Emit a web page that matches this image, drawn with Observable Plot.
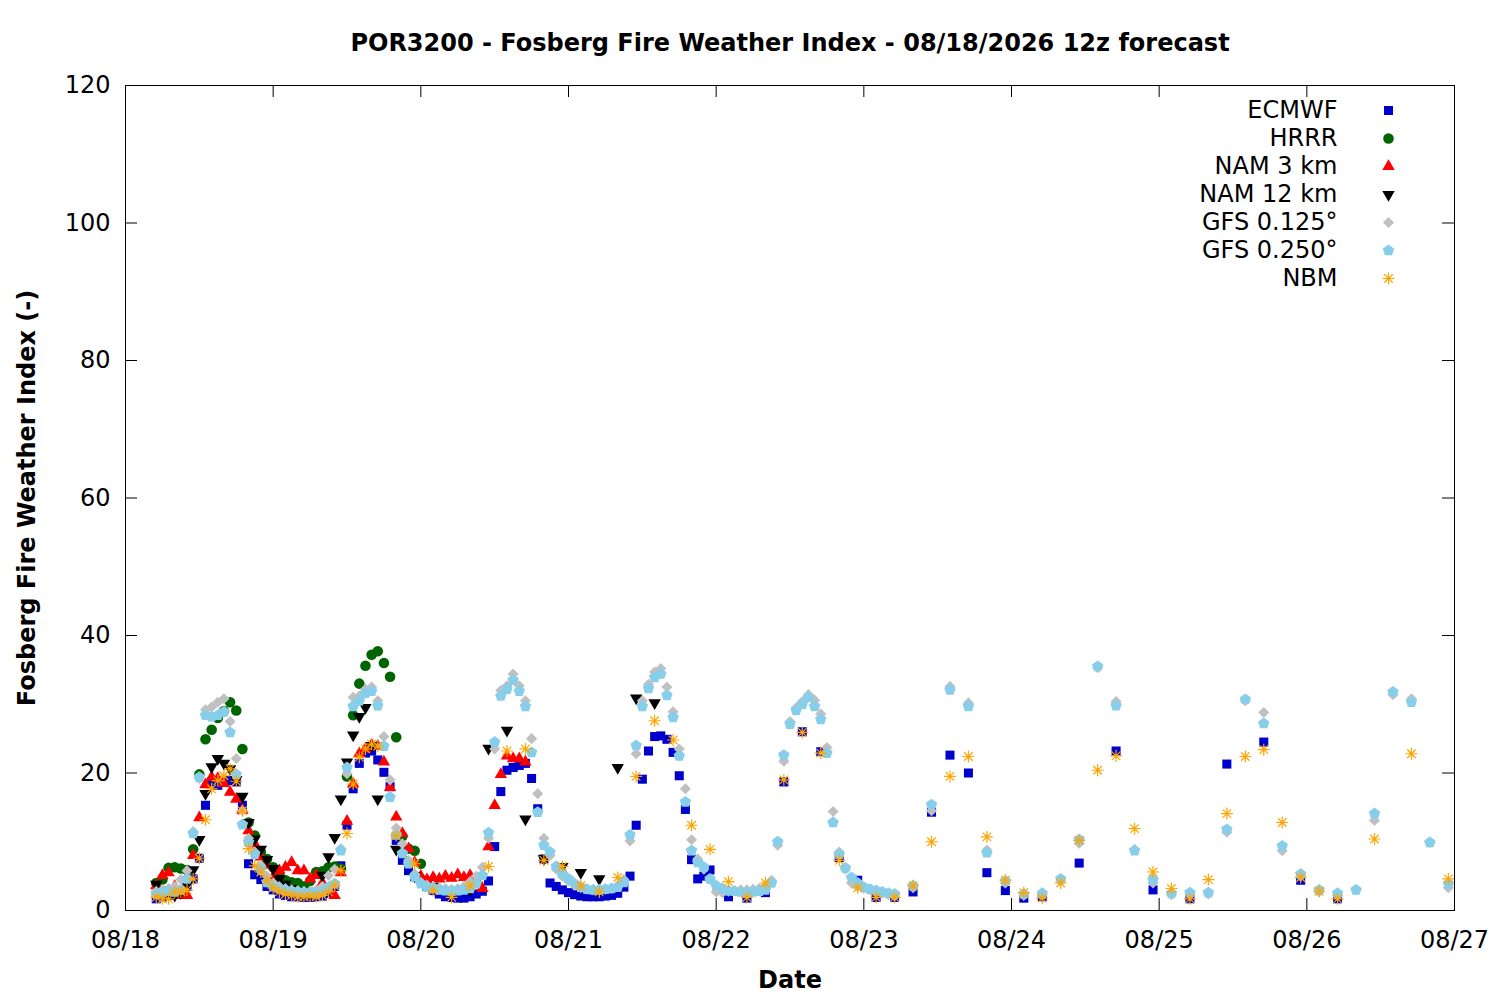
<!DOCTYPE html>
<html><head><meta charset="utf-8">
<script src="https://cdn.jsdelivr.net/npm/d3@7"></script>
<script src="https://cdn.jsdelivr.net/npm/@observablehq/plot@0.6"></script>
<style>body{margin:0;background:#fff} svg{display:block}</style>
</head><body><div id="chart"></div>
<script>
// ---------- data ----------
const titleText = "POR3200 - Fosberg Fire Weather Index - 08/18/2026 12z forecast";
const xLabel = "Date";
const yLabel = "Fosberg Fire Weather Index (-)";
const dayLabels = ["08/18","08/19","08/20","08/21","08/22","08/23","08/24","08/25","08/26","08/27"];
const dayTicks = [0,24,48,72,96,120,144,168,192,216]; // hours after 08/18 00 local
const yTicks = [0,20,40,60,80,100,120];
const modelNames = ["ECMWF","HRRR","NAM 3 km","NAM 12 km","GFS 0.125°","GFS 0.250°","NBM"];

// forecast valid times (hours after 08/18 00 local)
const ecmwfHours = [...d3.range(5,96,1), ...d3.range(98,150,3), ...d3.range(155,198,6)];
const hrrrHours  = d3.range(5,49,1);
const nam3Hours  = d3.range(5,66,1);
const nam12Hours = [...d3.range(5,42,1), ...d3.range(44,87,3)];
const gfsHours   = [...d3.range(5,126,1), ...d3.range(128,216,3)];
const nbmHours   = [...d3.range(5,42,1), ...d3.range(44,198,3), ...d3.range(203,216,6)];

const ecmwfFwi = [
  1.7,2.0,2.2,2.5,3.0,3.5,4.6,7.6,15.3,18.7,
  18.2,18.7,18.9,18.7,15.3,6.8,5.2,4.5,3.5,3.0,
  2.4,2.2,2.0,2.0,1.9,1.9,2.0,2.1,2.5,3.5,
  6.5,12.4,17.7,21.4,22.9,23.2,21.9,20.1,18.0,10.2,
  7.3,5.8,4.9,4.4,3.5,2.9,2.4,2.0,1.9,1.8,
  1.8,2.0,2.4,2.8,4.3,9.3,17.3,20.4,20.8,21.1,
  21.4,19.2,14.8,7.5,4.0,3.5,3.0,2.6,2.3,2.1,
  2.0,2.0,2.0,2.1,2.2,2.5,3.4,5.0,12.4,19.1,
  23.2,25.3,25.4,24.9,23.0,19.6,14.7,7.4,4.6,5.0,
  5.9,
  2.0,1.8,2.6,18.7,26.0,23.1,7.7,4.4,1.9,1.9,2.7,14.3,22.6,20.0,5.5,2.9,1.8,2.0,
  6.9,23.2,3.0,1.7,21.3,24.5,4.4,1.7
];
const hrrrFwi = [
  4.0,4.5,6.2,6.3,6.1,5.9,8.9,19.8,24.9,26.3,
  28.0,29.0,30.3,29.1,23.5,12.8,10.9,8.5,7.5,6.3,
  5.5,4.4,4.1,4.0,3.5,4.3,5.6,5.7,6.3,6.4,
  6.1,19.5,28.4,33.0,35.6,37.2,37.7,36.0,34.0,25.2,
  10.8,9.0,8.7,6.8
];
const nam3Fwi = [
  3.6,5.1,5.5,3.5,2.2,2.2,8.0,13.5,18.3,19.4,
  19.2,18.5,17.2,16.2,14.6,11.6,9.7,7.8,6.6,4.9,
  5.8,6.3,7.0,5.8,5.8,4.6,5.1,4.0,3.0,2.2,
  5.5,13.0,18.4,22.8,23.5,24.1,23.9,21.6,17.9,13.6,
  11.2,9.0,7.0,5.0,4.5,4.8,4.6,5.0,4.7,5.2,
  4.8,5.1,4.5,3.2,9.3,15.3,19.8,22.5,22.1,22.1,
  21.6
];
const nam12Fwi = [
  3.8,3.0,2.5,2.2,2.6,3.8,5.9,10.3,17.0,20.9,
  22.1,21.4,20.6,19.0,16.6,12.8,10.4,8.9,7.4,6.1,
  4.6,3.8,3.2,2.8,2.5,2.4,2.8,5.1,7.8,10.6,
  16.2,21.6,25.5,28.2,29.5,24.0,16.2,
  8.9,5.0,3.5,2.5,3.0,23.6,26.2,13.3,7.5,6.4,5.5,4.6,20.8,30.9,30.2
];
const gfs125Fwi = [
  2.8,3.0,3.2,3.5,4.5,5.8,11.5,19.2,29.2,29.6,
  30.3,30.8,27.5,22.1,14.5,10.5,8.5,6.5,5.0,4.0,
  3.5,3.2,3.0,2.9,2.8,2.8,3.0,3.5,5.1,6.0,
  9.0,19.9,31.0,31.2,32.2,32.5,30.5,25.3,19.0,12.0,
  9.7,7.3,5.3,4.1,3.7,3.5,3.3,3.2,3.1,3.2,
  3.5,4.2,5.0,6.3,10.5,23.5,32.0,32.7,34.4,32.7,
  30.5,25.0,17.0,10.5,8.0,6.0,5.0,4.3,3.7,3.3,
  3.1,3.0,3.0,3.1,3.2,3.6,4.5,10.1,22.8,30.5,
  32.9,34.7,35.2,32.5,28.9,23.5,17.7,10.3,7.5,6.0,
  4.5,2.7,2.6,2.8,2.9,3.0,3.0,3.1,3.2,3.6,
  4.4,9.5,21.7,27.5,29.5,30.4,31.4,30.6,28.6,23.7,
  14.4,8.5,6.0,4.0,3.5,3.2,3.0,2.8,2.5,2.3,
  2.1,
  3.3,14.5,32.6,30.2,8.8,4.0,2.2,2.3,4.3,9.8,35.3,30.4,8.9,4.0,2.3,
  2.3,2.4,11.4,30.5,28.8,8.7,5.0,2.7,2.2,3.0,13.1,31.4,30.8,9.9,3.3
];
const gfs250Fwi = [
  2.4,2.6,2.8,2.7,3.0,4.6,11.2,19.4,28.4,28.2,
  28.4,28.9,25.9,19.8,12.5,9.9,8.2,6.0,4.1,3.5,
  3.2,2.9,2.8,2.7,2.6,2.6,2.5,2.7,3.4,3.9,
  8.7,20.8,29.7,30.5,31.6,31.9,29.8,23.9,16.5,11.0,
  8.3,6.8,4.9,3.9,3.4,3.2,3.0,2.9,2.8,2.9,
  3.0,3.2,3.9,5.1,11.3,24.5,31.2,32.2,33.5,31.9,
  29.7,23.0,14.3,9.5,8.5,6.4,5.3,4.6,3.9,3.4,
  3.1,3.0,3.0,3.1,3.2,3.4,4.1,11.0,24.0,29.7,
  32.3,33.9,34.4,31.3,28.1,22.5,15.8,8.7,7.0,6.3,
  4.6,3.6,3.2,2.9,2.8,2.7,2.6,2.7,2.8,3.0,
  4.0,10.0,22.6,27.1,29.1,30.0,31.0,29.7,27.8,22.9,
  12.8,8.2,6.2,4.8,4.0,3.4,3.1,2.9,2.7,2.5,
  2.4,
  3.6,15.4,32.1,29.7,8.4,4.3,2.4,2.5,4.6,10.3,35.5,29.8,8.7,4.5,2.5,
  2.6,2.6,11.8,30.7,27.2,9.4,5.3,3.0,2.5,3.0,14.1,31.8,30.3,9.9,3.9
];
const nbmFwi = [
  1.9,1.7,1.7,2.7,2.7,3.0,4.6,7.6,13.2,17.7,
  18.9,19.6,20.6,18.8,14.5,9.0,6.5,5.6,4.4,3.3,
  2.7,2.4,2.2,2.0,2.0,2.1,2.0,2.2,2.7,3.6,
  5.8,11.2,18.4,22.3,23.5,24.2,23.9,
  10.9,6.8,2.9,1.9,3.6,6.4,23.2,23.5,7.3,6.4,
  3.6,2.7,4.8,19.5,27.6,24.8,12.4,8.9,4.2,1.9,
  4.0,19.0,25.9,22.9,7.3,3.3,1.9,1.9,3.6,10.0,
  19.5,22.4,10.7,4.4,2.6,1.8,4.0,10.2,20.4,22.5,
  11.9,5.6,3.2,1.7,4.5,14.1,22.4,23.4,12.8,4.8,
  2.8,1.7,
  10.4,22.8,4.6
];

// ---------- symbols & styles ----------
const pentagon = {draw(ctx, size) {
  const R = Math.sqrt(size / Math.PI);
  for (let i = 0; i < 5; ++i) {
    const a = -Math.PI / 2 + i * 2 * Math.PI / 5;
    const px = R * Math.cos(a), py = R * Math.sin(a);
    if (i === 0) ctx.moveTo(px, py); else ctx.lineTo(px, py);
  }
  ctx.closePath();
}};
const asterisk8 = {draw(ctx, size) {
  const R = Math.sqrt(size / Math.PI);
  for (let i = 0; i < 4; ++i) {
    const a = i * Math.PI / 4;
    ctx.moveTo(R * Math.cos(a), R * Math.sin(a));
    ctx.lineTo(-R * Math.cos(a), -R * Math.sin(a));
  }
}};

const styles = [
  {symbol: "square",   r: 5.1, fill: "#0000cc"},
  {symbol: "circle",   r: 5.3, fill: "#006400"},
  {symbol: "triangle", r: 4.6, fill: "#ff0000"},
  {symbol: "triangle", r: 4.6, fill: "#000000", rotate: 180},
  {symbol: "diamond2", r: 5.0, fill: "#c0c0c0"},
  {symbol: pentagon,   r: 6.0, fill: "#87ceeb"},
  {symbol: asterisk8,  r: 6.0, fill: "none", stroke: "#ffa500", strokeWidth: 1.2}
];

const seriesHours = [ecmwfHours, hrrrHours, nam3Hours, nam12Hours, gfsHours, gfsHours, nbmHours];
const seriesValues = [ecmwfFwi, hrrrFwi, nam3Fwi, nam12Fwi, gfs125Fwi, gfs250Fwi, nbmFwi];

const rows = seriesHours.map((hs, k) => hs.map((h, i) => ({h, v: seriesValues[k][i]})));

// ---------- chart ----------
const W = 1500, H = 1000, mL = 125, mR = 46, mT = 85, mB = 90;
const frameW = W - mL - mR, frameH = H - mT - mB, tick = 12;
const fs = 24;

const dotMarks = rows.map((data, k) => {
  const s = styles[k];
  return Plot.dot(data, {x: "h", y: "v", symbol: s.symbol, r: s.r, fill: s.fill,
    stroke: s.stroke ?? "none", strokeWidth: s.strokeWidth ?? 1, rotate: s.rotate ?? 0});
});

const legendMarks = modelNames.flatMap((name, k) => {
  const s = styles[k];
  return [
    Plot.text([name], {frameAnchor: "top-right", dx: -117, dy: 25 + 28 * k, textAnchor: "end", lineAnchor: "middle", fontSize: fs, fill: "black"}),
    Plot.dot([0], {frameAnchor: "top-right", dx: -66, dy: 25 + 28 * k, symbol: s.symbol, r: s.r, fill: s.fill,
      stroke: s.stroke ?? "none", strokeWidth: s.strokeWidth ?? 1, rotate: s.rotate ?? 0})
  ];
});

const chart = Plot.plot({
  width: W, height: H,
  marginLeft: mL, marginRight: mR, marginTop: mT, marginBottom: mB,
  style: {fontFamily: "'DejaVu Sans', sans-serif", fontSize: fs + "px", background: "white", color: "black"},
  x: {domain: [0, 216], axis: null},
  y: {domain: [0, 120], axis: null},
  marks: [
    // tick marks on all four borders (inward)
    Plot.tickX(dayTicks, {x: d => d, insetTop: frameH - tick, stroke: "black", strokeWidth: 1}),
    Plot.tickX(dayTicks, {x: d => d, insetBottom: frameH - tick, stroke: "black", strokeWidth: 1}),
    Plot.tickY(yTicks, {y: d => d, insetRight: frameW - tick, stroke: "black", strokeWidth: 1}),
    Plot.tickY(yTicks, {y: d => d, insetLeft: frameW - tick, stroke: "black", strokeWidth: 1}),
    Plot.axisX(dayTicks, {anchor: "bottom", tickSize: 0, tickPadding: 20, tickFormat: d => dayLabels[dayTicks.indexOf(d)], fontSize: fs, label: null}),
    Plot.axisY(yTicks, {anchor: "left", tickSize: 0, tickPadding: 15, fontSize: fs, label: null}),
    ...dotMarks,
    Plot.frame({stroke: "black", strokeWidth: 1}),
    ...legendMarks,
    Plot.text([titleText], {frameAnchor: "top", dy: -42, lineAnchor: "middle", textAnchor: "middle", fontWeight: "bold", fontSize: fs, fill: "black"}),
    Plot.text([xLabel], {frameAnchor: "bottom", dy: 70, lineAnchor: "middle", textAnchor: "middle", fontWeight: "bold", fontSize: fs, fill: "black"}),
    Plot.text([yLabel], {frameAnchor: "left", dx: -98, rotate: -90, lineAnchor: "middle", textAnchor: "middle", fontWeight: "bold", fontSize: fs, fill: "black"})
  ]
});
document.getElementById("chart").appendChild(chart);
</script>
</body></html>
